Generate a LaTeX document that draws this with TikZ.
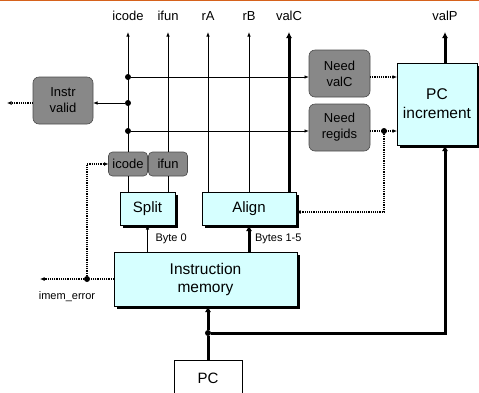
\documentclass[tikz,border=0pt]{standalone}
\usepackage{fontspec}
\setmainfont{Liberation Sans}
\usetikzlibrary{arrows.meta,shadows}
\definecolor{boxgray}{RGB}{136,136,136}
\definecolor{boxcyan}{RGB}{214,255,255}
\definecolor{rulecol}{RGB}{214,98,28}
\newcommand{\sz}[2]{\fontsize{#1}{#2}\selectfont}

\begin{document}
\begin{tikzpicture}[x=1pt,y=-1pt]
\def\thin{.8pt}

\tikzset{every node/.style={align=center, inner sep=1pt, outer sep=0pt}}
\tikzset{ctrl/.style={draw=black!70, fill=boxgray, rounded corners=6pt, line width=.6pt, font=\sz{13}{16}}}
\tikzset{hw/.style={draw=black, fill=boxcyan, line width=.6pt, drop shadow={shadow xshift=2.5pt, shadow yshift=-2.5pt, fill=black, opacity=1}}}
\tikzset{sig/.style={font=\sz{11}{13}}}
\tikzset{toplbl/.style={font=\sz{13}{15}, anchor=south, inner sep=0pt, text depth=12pt}}
\tikzset{dot/.style={circle, fill=black, inner sep=0pt, minimum size=6pt}}
\tikzset{wire/.style={line width=\thin, -{Latex[length=4.5pt,width=3.5pt]}}}
\tikzset{bus/.style={line width=3pt, -{Latex[length=6pt,width=6pt]}}}
\tikzset{flag/.style={line width=1.2pt, densely dotted, -{Latex[length=4.5pt,width=4pt]}}}

\useasboundingbox (0,0) rectangle (479,392);
\draw[rulecol, line width=2pt] (0,0) -- (479,0);

%%%%%% signal names
\node(icode)at(128,32)[toplbl]{icode};
\node(ifun)at(168,32)[toplbl]{ifun};
\node(rA)at(208,32)[toplbl]{rA};
\node(rB)at(249,32)[toplbl]{rB};
\node(valC)at(289,32)[toplbl]{valC};
\node(valP)at(445,32)[toplbl]{valP};

%%%%%% control blocks
\node(instrvalid)at(63,100.5)[ctrl,minimum width=60pt,minimum height=47pt]{Instr\\valid};
\node(needvalc)at(339.5,73.5)[ctrl,minimum width=61pt,minimum height=47pt]{Need\\valC};
\node(needregids)at(339.5,127.5)[ctrl,minimum width=61pt,minimum height=47pt]{Need\\regids};
\node(icodebox)at(128,164)[ctrl,rounded corners=4pt,minimum width=39pt,minimum height=24pt]{icode};
\node(ifunbox)at(168,164)[ctrl,rounded corners=4pt,minimum width=39pt,minimum height=24pt]{ifun};

%%%%%% hardware blocks
\node(pcinc)at(437,104)[hw,minimum width=80pt,minimum height=82pt,font=\sz{15.5}{19}]{PC\\increment};
\node(split)at(147.5,208.5)[hw,minimum width=55pt,minimum height=33pt,font=\sz{15}{17}]{Split};
\node(align)at(249,208.5)[hw,minimum width=94pt,minimum height=33pt,font=\sz{15}{17}]{Align};
\node(imem)at(205.5,279)[hw,minimum width=183pt,minimum height=54pt,font=\sz{15.5}{18}]{Instruction\\memory};
\node(pc)at(208,378)[draw=black,line width=.6pt,minimum width=68pt,minimum height=36pt,font=\sz{15}{17}]{PC};

%%%%%% junctions
\node(j1)at(128,77)[dot]{};
\node(j2)at(128,103)[dot]{};
\node(j3)at(128,131)[dot]{};
\node(jr)at(384,131)[dot]{};
\node(je)at(87,279)[dot]{};
\node(jp)at(208,333)[dot]{};
\coordinate(ivout)at(7,103);
\coordinate(imemerr)at(40,279);

%%%%%% fields out of the instruction
\draw[wire] (icodebox.north) -- (icode);
\draw[wire] (ifunbox.north) -- (ifun);
\draw[line width=\thin] (icodebox.south) -- (icodebox.south |- split.north);
\draw[line width=\thin] (ifunbox.south) -- (ifunbox.south |- split.north);
\draw[wire] (align.north -| rA) -- (rA);
\draw[wire] (align.north -| rB) -- (rB);
\draw[bus] (align.north -| valC) -- (valC);
\draw[bus] (pcinc.north -| valP) -- (valP);

%%%%%% icode decoding
\draw[wire] (j1) -- (j1 -| needvalc.west);
\draw[wire] (j2) -- (j2 -| instrvalid.east);
\draw[wire] (j3) -- (j3 -| needregids.west);
\draw[flag] (instrvalid.west |- j2) -- (ivout);
\draw[flag] (needvalc.east |- j1) -- (pcinc.west |- j1);
\draw[flag] (needregids.east |- jr) -- (pcinc.west |- jr);
\draw[flag] (jr) |- ([yshift=-3.5pt]align.east);

%%%%%% instruction bytes
\draw[wire] (split.south |- imem.north) -- (split.south) node[midway,right,sig,xshift=7pt]{Byte 0};
\draw[bus] (align.south |- imem.north) -- (align.south) node[midway,right,sig,xshift=5pt]{Bytes 1-5};

%%%%%% memory error
\draw[line width=1.2pt, densely dotted] (imem.west) -- (je);
\draw[flag] (je) -- (imemerr);
\draw[flag] (je) |- (icodebox.west);
\node(imemerrlbl)at(67,297)[sig]{imem\_error};

%%%%%% PC
\draw[line width=3pt] (pc.north) -- (jp);
\draw[bus] (jp) -- (jp |- imem.south);
\draw[bus] (jp) -| (pcinc.south -| valP);
\end{tikzpicture}
\end{document}
